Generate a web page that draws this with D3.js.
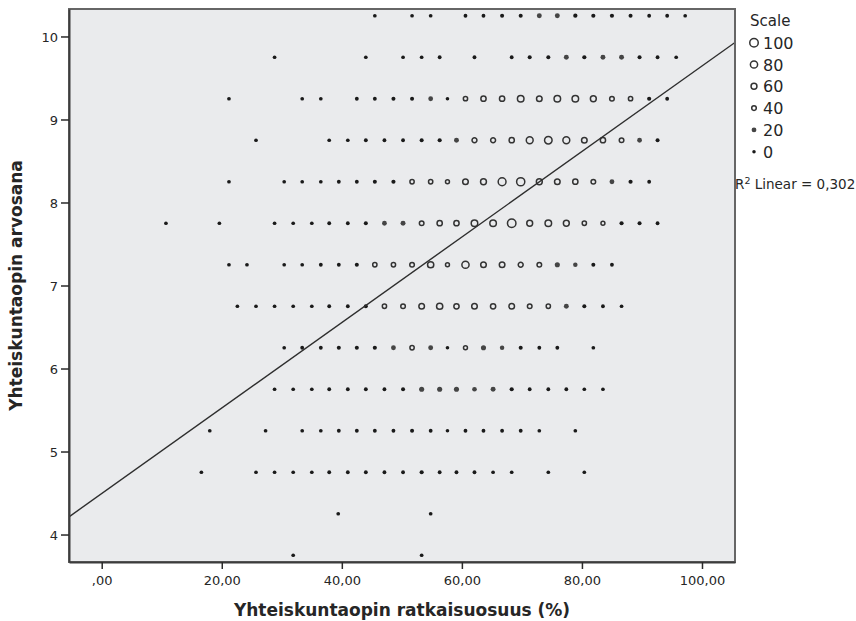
<!DOCTYPE html>
<html>
<head>
<meta charset="utf-8">
<script src="https://cdn.jsdelivr.net/npm/d3@7/dist/d3.min.js"></script>
<style>
  html, body { margin: 0; padding: 0; background: #ffffff; }
  svg { display: block; }
  text { font-family: "DejaVu Sans", sans-serif; fill: #262626; }
</style>
</head>
<body>
<svg id="chart" width="856" height="621"></svg>
<script>
// Grade rows (y) and, per row, the solution share (%) and the number of students at each point
const grades = [10.25, 9.75, 9.25, 8.75, 8.25, 7.75, 7.25, 6.75, 6.25, 5.75, 5.25, 4.75, 4.25, 3.75];

const pct1025 = [45.5, 51.7, 54.8, 60.6, 63.6, 66.7, 69.8, 72.9, 75.9, 78.9, 81.9, 85.0, 88.1, 91.2, 94.2, 97.2];
const n1025   = [3, 3, 3, 5, 5, 8, 8, 22, 22, 12, 10, 10, 8, 5, 5, 3];

const pct975 = [28.8, 44.0, 50.2, 53.3, 56.3, 62.1, 68.3, 71.3, 74.4, 77.4, 80.4, 83.5, 86.6, 89.6, 92.6, 95.7];
const n975   = [3, 3, 3, 3, 5, 5, 5, 8, 8, 22, 10, 22, 22, 8, 5, 3];

const pct925 = [21.2, 33.4, 36.5, 42.5, 45.5, 48.6, 51.7, 54.8, 57.6, 60.6, 63.6, 66.7, 69.8, 72.9, 75.9, 78.9, 81.9, 85.0, 88.1, 91.2, 94.2];
const n925   = [3, 3, 3, 5, 5, 8, 8, 20, 1, 35, 50, 50, 70, 55, 70, 70, 60, 40, 35, 10, 5];

const pct875 = [25.7, 37.9, 41.0, 44.0, 47.1, 50.2, 53.3, 56.3, 59.1, 62.1, 65.2, 68.3, 71.3, 74.4, 77.4, 80.4, 83.5, 86.6, 89.6, 92.6];
const n875   = [3, 3, 3, 5, 5, 5, 8, 10, 22, 45, 45, 50, 75, 85, 75, 55, 50, 40, 20, 8];

const pct825 = [21.2, 30.4, 33.4, 36.5, 39.5, 42.5, 45.5, 48.6, 51.7, 54.8, 57.6, 60.6, 63.6, 66.7, 69.8, 72.9, 75.9, 78.9, 81.9, 85.0, 88.1, 91.2];
const n825   = [3, 3, 3, 3, 5, 5, 8, 10, 35, 35, 30, 55, 60, 90, 95, 60, 55, 50, 40, 20, 10, 5];

const pct775 = [10.7, 19.6, 28.8, 31.9, 35.0, 37.9, 41.0, 44.0, 47.1, 50.2, 53.3, 56.3, 59.1, 62.1, 65.2, 68.3, 71.3, 74.4, 77.4, 80.4, 83.5, 86.6, 89.6, 92.6];
const n775   = [3, 3, 3, 3, 3, 5, 5, 8, 20, 22, 40, 50, 50, 70, 70, 100, 60, 70, 60, 35, 30, 10, 8, 5];

const pct725 = [21.2, 24.2, 30.4, 33.4, 36.5, 39.5, 42.5, 45.5, 48.6, 51.7, 54.8, 57.6, 60.6, 63.6, 66.7, 69.8, 72.9, 75.9, 78.9, 81.9, 85.0];
const n725   = [3, 3, 3, 3, 5, 5, 8, 35, 35, 40, 65, 30, 80, 55, 55, 45, 40, 25, 15, 8, 5];

const pct675 = [22.6, 25.7, 28.8, 31.9, 35.0, 37.9, 41.0, 44.0, 47.1, 50.2, 53.3, 56.3, 59.1, 62.1, 65.2, 68.3, 71.3, 74.4, 77.4, 80.4, 83.5, 86.6];
const n675   = [3, 3, 3, 3, 3, 5, 5, 8, 35, 40, 55, 65, 50, 55, 50, 55, 40, 35, 22, 8, 5, 3];

const pct625 = [30.4, 33.4, 36.5, 39.5, 42.5, 45.5, 48.6, 51.7, 54.8, 57.6, 60.6, 63.6, 66.7, 69.8, 72.9, 75.9, 81.9];
const n625   = [3, 5, 5, 8, 8, 10, 20, 35, 22, 1, 30, 25, 15, 8, 5, 5, 3];

const pct575 = [28.8, 31.9, 35.0, 37.9, 41.0, 44.0, 47.1, 50.2, 53.3, 56.3, 59.1, 62.1, 65.2, 68.3, 71.3, 74.4, 77.4, 80.4, 83.5];
const n575   = [3, 3, 3, 5, 5, 5, 5, 8, 25, 25, 25, 18, 22, 10, 5, 5, 5, 3, 3];

const pct525 = [18.0, 27.3, 33.4, 36.5, 39.5, 42.5, 45.5, 48.6, 51.7, 54.8, 57.6, 60.6, 63.6, 66.7, 69.8, 72.9, 78.9];
const n525   = [3, 3, 3, 3, 5, 5, 5, 5, 8, 5, 1, 5, 5, 5, 5, 3, 3];

const pct475 = [16.6, 25.7, 28.8, 31.9, 35.0, 37.9, 41.0, 44.0, 47.1, 50.2, 53.3, 56.3, 59.1, 62.1, 65.2, 68.3, 74.4, 80.4];
const n475   = [3, 3, 3, 3, 3, 5, 5, 5, 5, 5, 10, 5, 5, 5, 3, 3, 3, 3];

const pct425 = [39.4, 54.8];
const n425   = [3, 3];

const pct375 = [31.9, 53.3];
const n375   = [3, 3];

// Axis ticks, size legend and the fitted line
const xTicks = [0, 20, 40, 60, 80, 100];
const yTicks = [4, 5, 6, 7, 8, 9, 10];
const scaleValues = [100, 80, 60, 40, 20, 0];
const fitIntercept = 4.494;
const fitSlope = 0.0515;
const rSquaredLabel = "0,302";

const xTitle = "Yhteiskuntaopin ratkaisuosuus (%)";
const yTitle = "Yhteiskuntaopin arvosana";

// ---- assemble points ----
const rowPct = [pct1025, pct975, pct925, pct875, pct825, pct775, pct725, pct675, pct625, pct575, pct525, pct475, pct425, pct375];
const rowN   = [n1025, n975, n925, n875, n825, n775, n725, n675, n625, n575, n525, n475, n425, n375];
const points = [];
grades.forEach((g, i) => {
  rowPct[i].forEach((p, j) => points.push({ x: p, y: g, n: rowN[i][j] }));
});

// ---- layout ----
const svg = d3.select("#chart");
const plot = { left: 69, top: 9, right: 735, bottom: 562 };

const x = d3.scaleLinear().domain([-5.45, 105.5]).range([plot.left, plot.right]);
const y = d3.scaleLinear().domain([3.669, 10.331]).range([plot.bottom, plot.top]);
const rOuter = d3.scaleLinear().domain([0, 100]).range([1.75, 5.0]);

// plot background
svg.append("rect")
  .attr("x", plot.left).attr("y", plot.top)
  .attr("width", plot.right - plot.left).attr("height", plot.bottom - plot.top)
  .attr("fill", "#eaebed");

svg.append("clipPath").attr("id", "plotClip")
  .append("rect")
  .attr("x", plot.left).attr("y", plot.top)
  .attr("width", plot.right - plot.left).attr("height", plot.bottom - plot.top);

// draws one size-coded marker: small counts as dots, larger counts as rings
function marker(sel) {
  sel.each(function(d) {
    const g = d3.select(this);
    const r = rOuter(d.n);
    if (d.n < 30) {
      g.append("circle")
        .attr("r", r)
        .attr("fill", d.n >= 15 ? "#454545" : "#1a1a1a");
    } else {
      g.append("circle")
        .attr("r", r - 0.75)
        .attr("fill", "none")
        .attr("stroke", "#333")
        .attr("stroke-width", 1.5);
    }
  });
}

// bubbles
svg.append("g").attr("clip-path", "url(#plotClip)")
  .selectAll("g.pt")
  .data(points)
  .join("g")
  .attr("class", "pt")
  .attr("transform", d => `translate(${x(d.x)},${y(d.y)})`)
  .call(marker);

// linear fit line
const xd = x.domain();
svg.append("line")
  .attr("clip-path", "url(#plotClip)")
  .attr("x1", x(xd[0])).attr("y1", y(fitIntercept + fitSlope * xd[0]))
  .attr("x2", x(xd[1])).attr("y2", y(fitIntercept + fitSlope * xd[1]))
  .attr("stroke", "#2e2e2e")
  .attr("stroke-width", 1.4);

// frame
svg.append("rect")
  .attr("x", plot.left).attr("y", plot.top)
  .attr("width", plot.right - plot.left).attr("height", plot.bottom - plot.top)
  .attr("fill", "none")
  .attr("stroke", "#666")
  .attr("stroke-width", 2);

// axes
const fmtX = v => (v === 0 ? ",00" : d3.format(".2f")(v).replace(".", ","));
const xAxis = svg.append("g")
  .attr("transform", `translate(0,${plot.bottom})`)
  .call(d3.axisBottom(x).tickValues(xTicks).tickFormat(fmtX).tickSize(7).tickSizeOuter(0));
const yAxis = svg.append("g")
  .attr("transform", `translate(${plot.left},0)`)
  .call(d3.axisLeft(y).tickValues(yTicks).tickFormat(d3.format("d")).tickSize(8).tickSizeOuter(0));

[xAxis, yAxis].forEach(a => {
  a.select(".domain").attr("stroke", "#3c3c3c").attr("stroke-width", 2);
  a.selectAll(".tick line").attr("stroke", "#2a2a2a").attr("stroke-width", 1.5);
  a.selectAll(".tick text")
    .attr("font-family", "DejaVu Sans, sans-serif")
    .attr("font-size", 13)
    .attr("fill", "#333");
});
xAxis.selectAll(".tick text").attr("dy", null).attr("y", 23);
yAxis.selectAll(".tick text").attr("x", -11).attr("dy", "0.36em");

// axis titles
svg.append("text")
  .attr("x", (plot.left + plot.right) / 2).attr("y", 616)
  .attr("text-anchor", "middle")
  .attr("font-size", 17).attr("font-weight", "bold")
  .text(xTitle);

svg.append("text")
  .attr("transform", `translate(22,${(plot.top + plot.bottom) / 2}) rotate(-90)`)
  .attr("text-anchor", "middle")
  .attr("font-size", 17).attr("font-weight", "bold")
  .text(yTitle);

// size legend
const legend = svg.append("g");
legend.append("text").attr("x", 750).attr("y", 26).attr("font-size", 15).text("Scale");
const lg = legend.selectAll("g.item")
  .data(scaleValues.map(v => ({ n: v })))
  .join("g")
  .attr("class", "item")
  .attr("transform", (d, i) => `translate(754,${42.7 + i * 21.8})`);
lg.call(marker);
lg.append("text").attr("x", 9).attr("y", 6).attr("font-size", 16).text(d => d.n);

// R² annotation
const r2 = svg.append("text").attr("x", 735).attr("y", 189).attr("font-size", 13.5);
r2.append("tspan").text("R");
r2.append("tspan").attr("font-size", 9.5).attr("dy", -5).text("2");
r2.append("tspan").attr("dy", 5).text(" Linear = " + rSquaredLabel);
</script>
</body>
</html>
